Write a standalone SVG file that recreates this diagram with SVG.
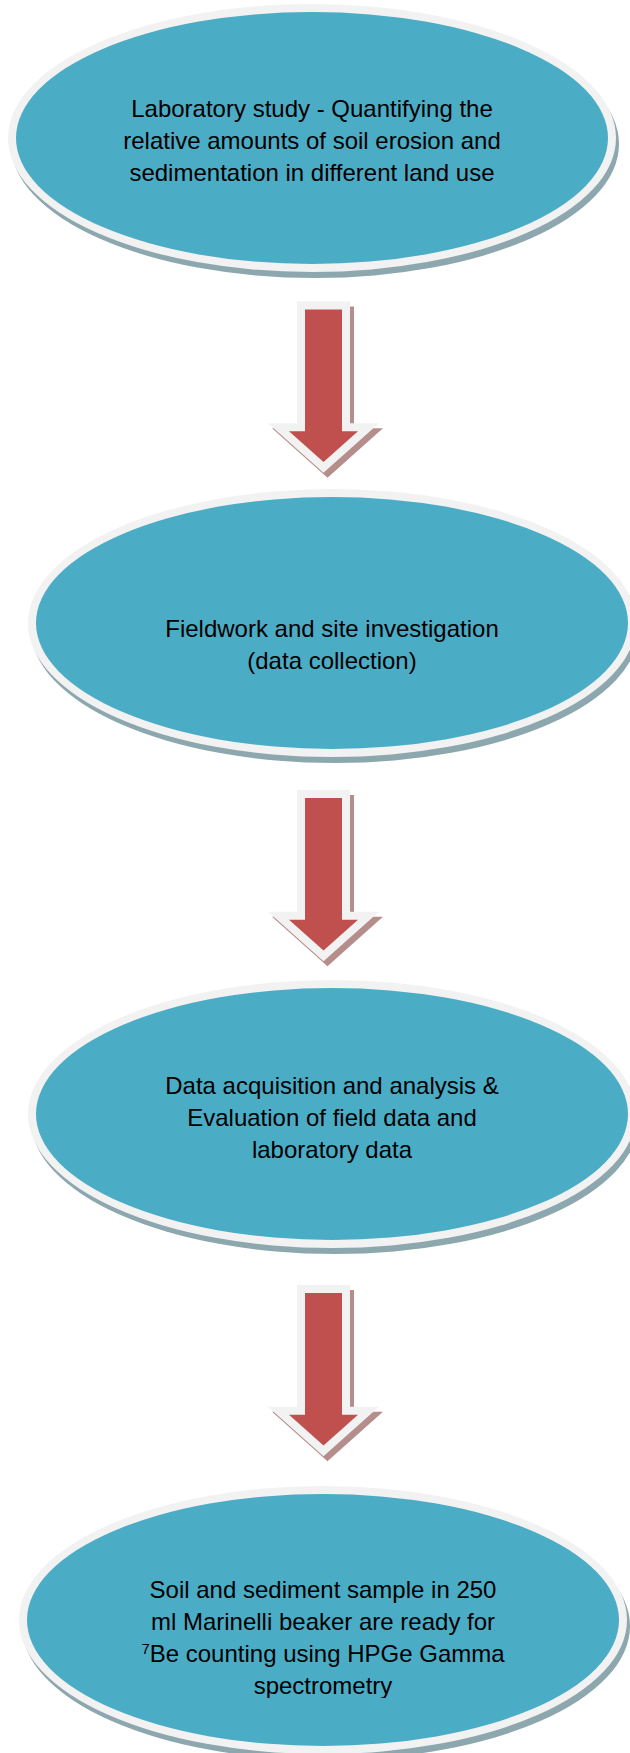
<svg xmlns="http://www.w3.org/2000/svg" xmlns:xlink="http://www.w3.org/1999/xlink" width="630" height="1753" viewBox="0 0 630 1753">
  <style>
    .shadow { fill: #8ca7ae; }
    .rim { fill: #f2f2f2; }
    .face { fill: #4bacc6; }
    .label { font-family: "Liberation Sans", Arial, sans-serif; font-size: 24px; fill: #000000; text-anchor: middle; }
    .sup { font-size: 15px; }
    .arrow-shadow { fill: #b58d8b; stroke: #b58d8b; stroke-width: 16; stroke-linejoin: miter; }
    .arrow-rim { fill: #f2f2f2; stroke: #f2f2f2; stroke-width: 16; stroke-linejoin: miter; }
    .arrow-face { fill: #c0504d; }
  </style>
  <defs>
    <!-- block arrow pointing down, origin at the top centre of the shaft -->
    <path id="down-arrow" d="M -18.5 0 L 18.5 0 L 18.5 121.7 L 34.5 121.7 L 0 152.5 L -34.5 121.7 L -18.5 121.7 Z"/>
    <clipPath id="clip-node-4">
      <rect x="0" y="1480" width="630" height="218"/>
    </clipPath>
  </defs>

  <rect x="0" y="0" width="630" height="1753" fill="#ffffff"/>

  <!-- step 1 -->
  <g id="node-1">
    <ellipse class="shadow" cx="315" cy="144" rx="304" ry="134"/>
    <ellipse class="rim" cx="312" cy="138" rx="304" ry="134"/>
    <ellipse class="face" cx="312" cy="138" rx="296" ry="126"/>
    <text class="label" x="312" y="117">Laboratory study - Quantifying the</text>
    <text class="label" x="312" y="149">relative amounts of soil erosion and</text>
    <text class="label" x="312" y="181">sedimentation in different land use</text>
  </g>

  <!-- step 2 -->
  <g id="node-2">
    <ellipse class="shadow" cx="335" cy="629" rx="304" ry="134"/>
    <ellipse class="rim" cx="332" cy="623" rx="304" ry="134"/>
    <ellipse class="face" cx="332" cy="623" rx="296" ry="126"/>
    <text class="label" x="332" y="637">Fieldwork and site investigation</text>
    <text class="label" x="332" y="669">(data collection)</text>
  </g>

  <!-- step 3 -->
  <g id="node-3">
    <ellipse class="shadow" cx="335" cy="1120" rx="304" ry="134"/>
    <ellipse class="rim" cx="332" cy="1114" rx="304" ry="134"/>
    <ellipse class="face" cx="332" cy="1114" rx="296" ry="126"/>
    <text class="label" x="332" y="1094">Data acquisition and analysis &amp;</text>
    <text class="label" x="332" y="1126">Evaluation of field data and</text>
    <text class="label" x="332" y="1158">laboratory data</text>
  </g>

  <!-- step 4 -->
  <g id="node-4">
    <ellipse class="shadow" cx="326" cy="1626" rx="304" ry="134"/>
    <ellipse class="rim" cx="323" cy="1620" rx="304" ry="134"/>
    <ellipse class="face" cx="323" cy="1620" rx="296" ry="126"/>
    <g clip-path="url(#clip-node-4)">
      <text class="label" x="323" y="1598">Soil and sediment sample in 250</text>
      <text class="label" x="323" y="1630">ml Marinelli beaker are ready for</text>
      <text class="label" x="323" y="1662"><tspan class="sup" dy="-8">7</tspan><tspan dy="8">Be counting using HPGe Gamma</tspan></text>
      <text class="label" x="323" y="1694">spectrometry</text>
    </g>
  </g>

  <!-- connectors -->
  <g id="connectors">
    <g id="arrow-1" transform="translate(323.5 309.5)">
      <use xlink:href="#down-arrow" class="arrow-shadow" transform="translate(4 5)"/>
      <use xlink:href="#down-arrow" class="arrow-rim"/>
      <use xlink:href="#down-arrow" class="arrow-face"/>
    </g>
    <g id="arrow-2" transform="translate(323.5 798)">
      <use xlink:href="#down-arrow" class="arrow-shadow" transform="translate(4 5)"/>
      <use xlink:href="#down-arrow" class="arrow-rim"/>
      <use xlink:href="#down-arrow" class="arrow-face"/>
    </g>
    <g id="arrow-3" transform="translate(323.5 1293)">
      <use xlink:href="#down-arrow" class="arrow-shadow" transform="translate(4 5)"/>
      <use xlink:href="#down-arrow" class="arrow-rim"/>
      <use xlink:href="#down-arrow" class="arrow-face"/>
    </g>
  </g>
</svg>
